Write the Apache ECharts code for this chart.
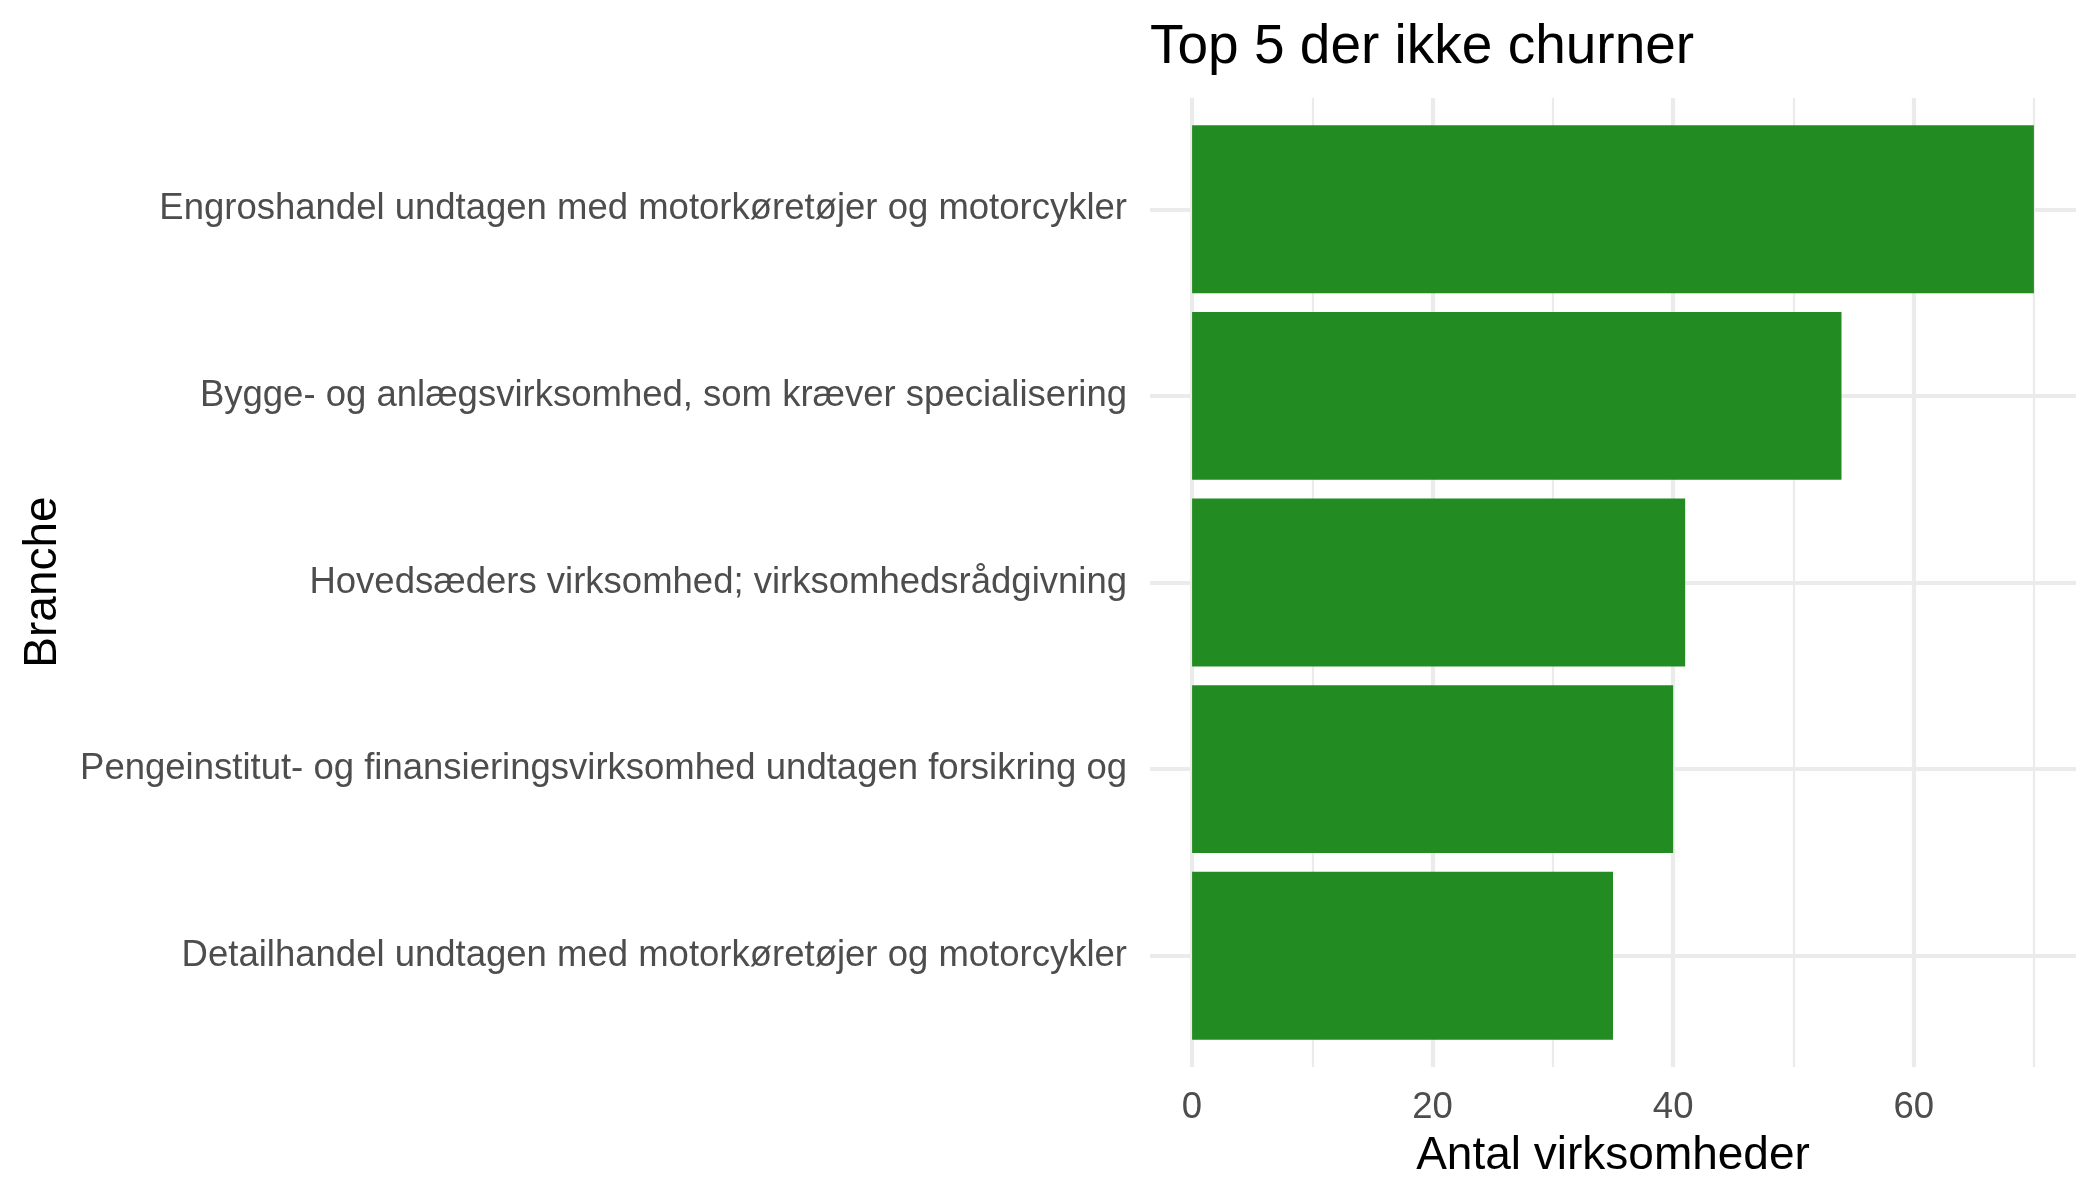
<!DOCTYPE html>
<html>
<head>
    <meta charset="utf-8"/>
    <title>Top 5 der ikke churner</title>
    <script src="https://cdn.jsdelivr.net/npm/echarts@6/dist/echarts.min.js"></script>
    <style>
        html, body { margin: 0; padding: 0; background: #fff; }
        #chart { width: 2100px; height: 1200px; }
    </style>
</head>
<body>
<div id="chart"></div>
<script>
    // data, top to bottom
    var branches = [
        'Engroshandel undtagen med motorkøretøjer og motorcykler',
        'Bygge- og anlægsvirksomhed, som kræver specialisering',
        'Hovedsæders virksomhed; virksomhedsrådgivning',
        'Pengeinstitut- og finansieringsvirksomhed undtagen forsikring og',
        'Detailhandel undtagen med motorkøretøjer og motorcykler'
    ];
    var antal = [70, 54, 41, 40, 35];
    var xTicks = [0, 20, 40, 60];

    var font = 'Liberation Sans, Arial, sans-serif';
    var gridCol = '#EBEBEB';

    var chart = echarts.init(document.getElementById('chart'), null, {renderer: 'canvas'});

    var option = {
        backgroundColor: '#ffffff',
        animation: false,
        title: {
            text: 'Top 5 der ikke churner',
            left: 1145,
            top: 15,
            textStyle: {fontFamily: font, fontSize: 55, fontWeight: 'normal', color: '#000'}
        },
        grid: [
            // gridlines + x labels, spans 0..70
            {left: 1192, right: 66, top: 98, bottom: 133},
            // bars, panel -3.5..73.5
            {left: 1150, right: 24, top: 116, bottom: 151}
        ],
        xAxis: [
            {
                gridIndex: 0, type: 'value', min: 0, max: 70, interval: 20,
                axisLine: {show: false}, axisTick: {show: false},
                axisLabel: {
                    color: '#4D4D4D', fontFamily: font, fontSize: 36.5, margin: 22,
                    formatter: function (v) { return xTicks.indexOf(v) >= 0 ? String(v) : ''; }
                },
                splitLine: {show: true, showMaxLine: false, lineStyle: {color: gridCol, width: 4.2}},
                name: 'Antal virksomheder', nameLocation: 'middle', nameGap: 66,
                nameTextStyle: {color: '#000', fontFamily: font, fontSize: 46}
            },
            {
                gridIndex: 0, type: 'value', min: 0, max: 70, interval: 10,
                axisLine: {show: false}, axisTick: {show: false}, axisLabel: {show: false},
                splitLine: {show: true, lineStyle: {color: gridCol, width: 2.2}}
            },
            {
                gridIndex: 1, type: 'value', min: -3.5, max: 73.5,
                axisLine: {show: false}, axisTick: {show: false}, axisLabel: {show: false},
                splitLine: {show: false}
            }
        ],
        yAxis: [
            {
                gridIndex: 0, type: 'value', min: 0, max: 1, show: false
            },
            {
                gridIndex: 1, type: 'category', data: branches, inverse: true,
                axisLine: {show: false, onZero: false},
                // horizontal gridlines at the category centres
                axisTick: {show: true, alignWithLabel: true, inside: true, length: 926,
                    lineStyle: {color: gridCol, width: 4.2}},
                axisLabel: {color: '#4D4D4D', fontFamily: font, fontSize: 36.5, margin: 23},
                splitLine: {show: false}
            }
        ],
        graphic: [{
            type: 'text',
            x: 43, y: 582,
            rotation: Math.PI / 2,
            style: {
                text: 'Branche', fontFamily: font, fontSize: 46, fill: '#000',
                align: 'center', verticalAlign: 'middle'
            }
        }],
        series: [{
            type: 'bar',
            xAxisIndex: 2,
            yAxisIndex: 1,
            data: antal,
            barCategoryGap: '10%',
            itemStyle: {color: '#228B22'}
        }]
    };
    chart.setOption(option);

    window.onresize = function () {
        chart.resize();
    };
</script>
</body>
</html>
